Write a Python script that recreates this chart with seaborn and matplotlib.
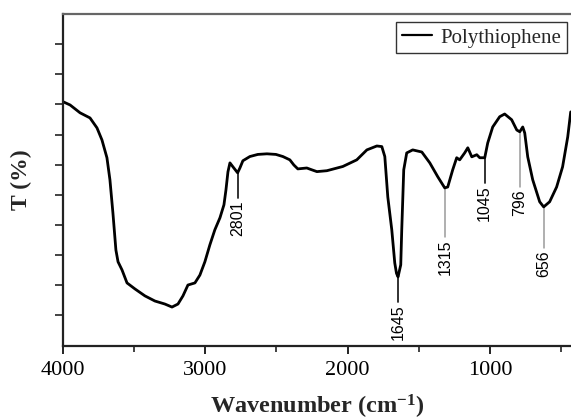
import numpy as np
import pandas as pd
import matplotlib
matplotlib.use("Agg")
import matplotlib.pyplot as plt
import seaborn as sns

# FTIR spectrum of polythiophene
wavenumber = [4000, 3949, 3879, 3809, 3760, 3725, 3690, 3669, 3648, 3627, 3612, 3584,
              3549, 3493, 3423, 3353, 3283, 3233, 3191, 3156, 3121, 3072, 3037, 3002,
              2967, 2932, 2896, 2868, 2854, 2840, 2826, 2805, 2772, 2756, 2735, 2686,
              2630, 2566, 2503, 2454, 2405, 2377, 2349, 2286, 2251, 2215, 2145, 2033,
              1935, 1864, 1794, 1759, 1738, 1717, 1689, 1668, 1656, 1645, 1626, 1619,
              1612, 1605, 1584, 1542, 1478, 1422, 1366, 1317, 1296, 1261, 1233, 1212,
              1177, 1155, 1127, 1092, 1071, 1036, 1015, 980, 931, 896, 847, 811,
              790, 769, 755, 734, 699, 650, 622, 580, 531, 489, 453, 432]
transmittance = [8.09, 7.98, 7.72, 7.55, 7.22, 6.82, 6.23, 5.50, 4.40, 3.17, 2.78, 2.51,
                 2.08, 1.88, 1.65, 1.48, 1.38, 1.28, 1.38, 1.65, 2.01, 2.08, 2.34, 2.78,
                 3.34, 3.84, 4.24, 4.67, 5.16, 5.76, 6.06, 5.93, 5.73, 5.89, 6.13, 6.27,
                 6.34, 6.36, 6.34, 6.27, 6.16, 5.99, 5.86, 5.89, 5.83, 5.77, 5.80, 5.94,
                 6.16, 6.49, 6.62, 6.60, 6.27, 4.93, 3.84, 2.74, 2.40, 2.28, 2.68, 3.84,
                 4.83, 5.83, 6.39, 6.49, 6.42, 6.06, 5.60, 5.23, 5.26, 5.83, 6.23, 6.16,
                 6.39, 6.56, 6.26, 6.33, 6.23, 6.23, 6.72, 7.25, 7.59, 7.68, 7.49, 7.15,
                 7.09, 7.25, 7.05, 6.26, 5.50, 4.77, 4.60, 4.77, 5.26, 5.93, 6.92, 7.75]

# peak annotations: printed label, where its leader sits on the curve
peak_labels = ["2801", "1645", "1315", "1045", "796", "656"]
peak_pos = [2772, 1645, 1312, 1036, 790, 622]
label_y = [4.90, 1.45, 3.60, 5.40, 5.26, 3.24]
leader_dark = [True, True, False, True, False, False]

x_major = [4000, 3000, 2000, 1000]
x_minor = [3500, 2500, 1500, 500]

df = pd.DataFrame({"Wavenumber": wavenumber, "T": transmittance})

sns.set_style("white")
plt.rcParams["font.family"] = ["Liberation Serif", "DejaVu Serif"]
plt.rcParams["mathtext.default"] = "regular"

fig = plt.figure(figsize=(5.71, 4.2), dpi=100)
ax = fig.add_axes([0.110, 0.177, 0.890, 0.790])

sns.lineplot(data=df, x="Wavenumber", y="T", estimator=None, sort=False,
             color="black", linewidth=2.0, label="Polythiophene", ax=ax)

curve_x = np.array(wavenumber[::-1], dtype=float)
curve_y = np.array(transmittance[::-1], dtype=float)
for lab, pos, ly, dark in zip(peak_labels, peak_pos, label_y, leader_dark):
    top = np.interp(pos, curve_x, curve_y)
    ax.plot([pos, pos], [top, ly], color="#222222" if dark else "#9a9a9a",
            linewidth=1.3 if dark else 1.1, zorder=1)
    ax.text(pos, ly - 0.08, lab, rotation=90, ha="center", va="top",
            fontsize=11.5, family=["Liberation Sans", "DejaVu Sans"], color="black")

ax.set_xlim(4000, 430)
ax.set_ylim(0, 11)
ax.set_xticks(x_major)
ax.set_xticks(x_minor, minor=True)
ax.set_yticks(range(1, 11))
ax.set_yticklabels([])
ax.tick_params(axis="x", which="major", direction="out", length=6, width=1.4,
               labelsize=16, pad=5, bottom=True, color="#222222", labelcolor="black")
ax.tick_params(axis="x", which="minor", direction="out", length=4, width=1.2, bottom=True,
               color="#222222")
ax.tick_params(axis="y", direction="out", length=6, width=1.2, left=True, color="#222222")

ax.set_xlabel("Wavenumber (cm$^{-1}$)", fontsize=17.5, fontweight="bold", labelpad=9)
ax.set_ylabel("T (%)", fontsize=17, fontweight="bold", labelpad=13)

for side in ["left", "bottom"]:
    ax.spines[side].set_color("#222222")
    ax.spines[side].set_linewidth(1.6)
ax.spines["top"].set_color("#666666")
ax.spines["top"].set_linewidth(1.6)
ax.spines["right"].set_visible(False)

leg = ax.legend(loc="upper right", bbox_to_anchor=(0.992, 0.975), fontsize=15,
                frameon=True, fancybox=False, handlelength=1.45, handletextpad=0.4,
                borderpad=0.28, borderaxespad=0.0)
leg.get_frame().set_edgecolor("black")
leg.get_frame().set_linewidth(1.0)
leg.get_lines()[0].set_linewidth(1.6)

plt.savefig("out.png", dpi=100, facecolor="white")
